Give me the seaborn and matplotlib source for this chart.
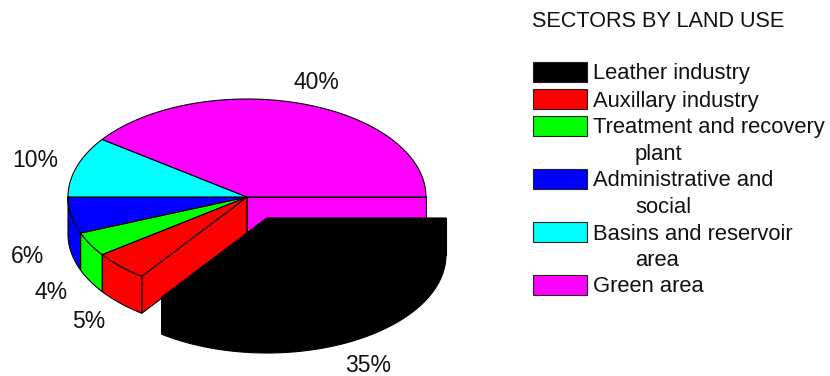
import numpy as np
import matplotlib
matplotlib.use("Agg")
import matplotlib.pyplot as plt
from matplotlib.patches import Rectangle
import seaborn as sns

title = "SECTORS BY LAND USE"
categories = ["Leather industry", "Auxillary industry", "Treatment and recovery\nplant",
              "Administrative and\nsocial", "Basins and reservoir\narea", "Green area"]
values = [35, 5, 4, 6, 10, 40]
colors = ["#000000", "#ff0000", "#00ff00", "#0000ff", "#00ffff", "#ff00ff"]

sns.set_theme(style="white", color_codes=False)
plt.rcParams["font.family"] = ["Liberation Sans", "DejaVu Sans"]
palette = sns.color_palette(colors)
TXT = "#111111"
BLK = "#000000"
FS = 15.8
LW = 0.8

fig = plt.figure(figsize=(8.3, 3.76), dpi=100)
ax = fig.add_axes([0, 0, 1, 1])
ax.set_xlim(0, 830)
ax.set_ylim(376, 0)
ax.axis("off")

CX, CY, RX, RY, DEPTH = 247, 197, 179, 98, 37
EXPLODE = (20, 21)


def rim(cx, cy, a0, a1, n=80):
    t = np.radians(np.linspace(a0, a1, n))
    return cx + RX * np.cos(t), cy - RY * np.sin(t)


def wall(a0, a1, col, cx=CX, cy=CY, z=1.0):
    lo, hi = max(a0, 180), min(a1, 360)
    if hi <= lo:
        return
    x, y = rim(cx, cy, lo, hi)
    ax.fill(np.r_[x, x[::-1]], np.r_[y, y[::-1] + DEPTH], fc=col, ec=BLK, lw=LW, zorder=z)


def cut(a, col, z, cx=CX, cy=CY):
    x, y = rim(cx, cy, a, a, 1)
    ax.fill([cx, x[0], x[0], cx], [cy, y[0], y[0] + DEPTH, cy + DEPTH],
            fc=col, ec=BLK, lw=LW, zorder=z)


def top(a0, a1, col, cx=CX, cy=CY, z=3.0):
    x, y = rim(cx, cy, a0, a1)
    ax.fill(np.r_[cx, x], np.r_[cy, y], fc=col, ec=BLK, lw=LW, zorder=z)


# angles run clockwise from 360 deg in legend order
edges = 360 - np.cumsum([0] + values) * 3.6
a_leather = (edges[1], edges[0])

# cut faces left open by the exploded slice
cut(0, palette[5], 1.0)
cut(edges[1], palette[1], 1.5)

for i in range(1, len(values)):
    wall(edges[i + 1], edges[i], palette[i], z=2.0)
    top(edges[i + 1], edges[i], palette[i])

# exploded slice
ex, ey = CX + EXPLODE[0], CY + EXPLODE[1]
wall(a_leather[0], a_leather[1], palette[0], ex, ey, z=4)
cut(a_leather[0], palette[0], 4, ex, ey)
cut(0, palette[0], 4, ex, ey)
top(a_leather[0], a_leather[1], palette[0], ex, ey, z=4)

# percentage labels
label_xy = [(368.5, 372), (89, 328), (51, 299), (27.5, 263), (35, 167), (316.5, 89)]
for v, (lx, ly) in zip(values, label_xy):
    ax.text(lx, ly, f"{v}%", ha="center", va="baseline", fontsize=16.5, color=TXT)

# legend
ax.text(532, 27, title, ha="left", va="baseline", fontsize=15.6, color=TXT)
swatch_y = [62, 89, 116, 169, 222, 275]
LINE = 26.5
for name, col, y in zip(categories, palette, swatch_y):
    ax.add_patch(Rectangle((532.5, y), 54, 19.5, fc=col, ec="#222222", lw=LW))
    for k, part in enumerate(name.split("\n")):
        ax.text(593 if k == 0 else 635, y + 17.5 + k * LINE, part,
                ha="left", va="baseline", fontsize=FS, color=TXT)

fig.savefig("out.png", dpi=100)
